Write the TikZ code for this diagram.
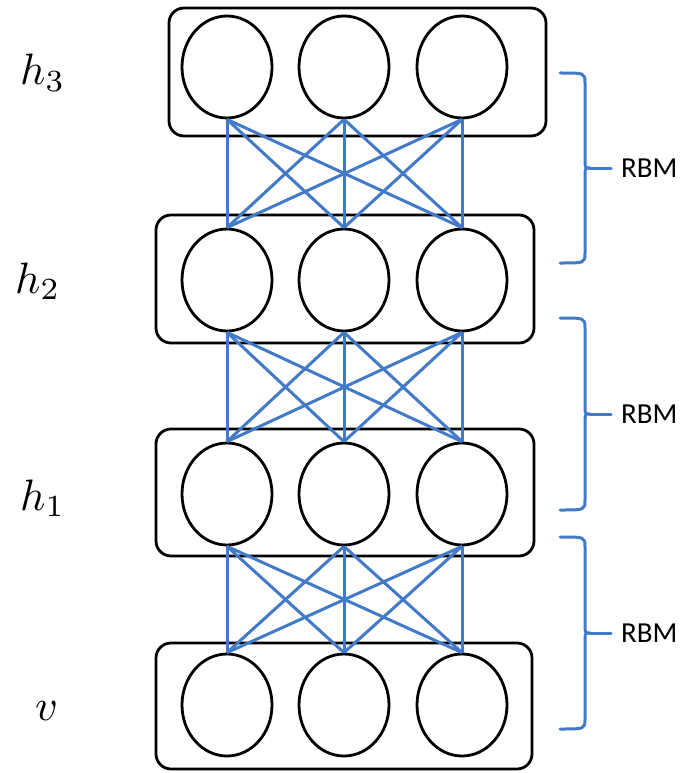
\documentclass[tikz,border=0pt]{standalone}
\usepackage{fontspec}
\setsansfont{Carlito}
\usetikzlibrary{shapes.geometric}
\definecolor{linkblue}{RGB}{66,122,200}
\newcommand{\bigsym}[1]{\scalebox{4.4}{$#1$}}
\begin{document}
\begin{tikzpicture}[x=1pt,y=-1pt,
  unit/.style={ellipse,draw=black,line width=2.8pt,minimum width=90pt,minimum height=102pt,inner sep=0pt},
  layer/.style={rectangle,rounded corners=15pt,draw=black,line width=2.8pt,inner sep=0pt},
  link/.style={draw=linkblue,line width=3pt},
  bracket/.style={draw=linkblue,line width=3pt,line cap=round,line join=round},
  layername/.style={anchor=base west,inner sep=0pt},
  rbmtext/.style={anchor=west,inner sep=0pt,font=\sffamily\fontsize{29}{32}\selectfont}]
\useasboundingbox (0,0) rectangle (686,773);

% layer boxes
\node[layer,minimum width=377pt,minimum height=128pt] (b3) at (357.5,72) {};
\node[layer,minimum width=378pt,minimum height=128pt] (b2) at (345,279) {};
\node[layer,minimum width=378pt,minimum height=127pt] (b1) at (345,492.5) {};
\node[layer,minimum width=376pt,minimum height=126pt] (b0) at (344,706) {};

% units
\foreach \i/\x in {1/227,2/344,3/462} {
  \node[unit] (h3\i) at (\x,67) {};
  \node[unit] (h2\i) at (\x,280) {};
  \node[unit] (h1\i) at (\x,494) {};
  \node[unit] (v\i)  at (\x,705) {};
}

% full bipartite connections between neighbouring layers
\foreach \a/\b in {h3/h2,h2/h1,h1/v} {
  \foreach \i in {1,2,3} {
    \foreach \j in {1,2,3} {
      \draw[link] (\a\i.south) -- (\b\j.north);
    }
  }
}

% layer names
\node[layername] (l3) at (20,85) {\bigsym{h_3}};
\node[layername] (l2) at (15,293) {\bigsym{h_2}};
\node[layername] (l1) at (20,510) {\bigsym{h_1}};
\node[layername] (l0) at (35,720) {\bigsym{v}};

% braces marking each RBM
\foreach \k/\t/\m/\bt in {a/73/168/263, b/318/414/510, c/537/633/729} {
  \draw[bracket] (560,\t) .. controls (585,\t) .. (585,\t+10)
    -- (585,\m-8) .. controls (585,\m) .. (590,\m)
    .. controls (585,\m) .. (585,\m+8)
    -- (585,\bt-10) .. controls (585,\bt) .. (560,\bt);
  \draw[bracket] (590,\m) -- (611,\m);
  \node[rbmtext] (rbm\k) at (621,\m) {RBM};
}
\end{tikzpicture}
\end{document}
